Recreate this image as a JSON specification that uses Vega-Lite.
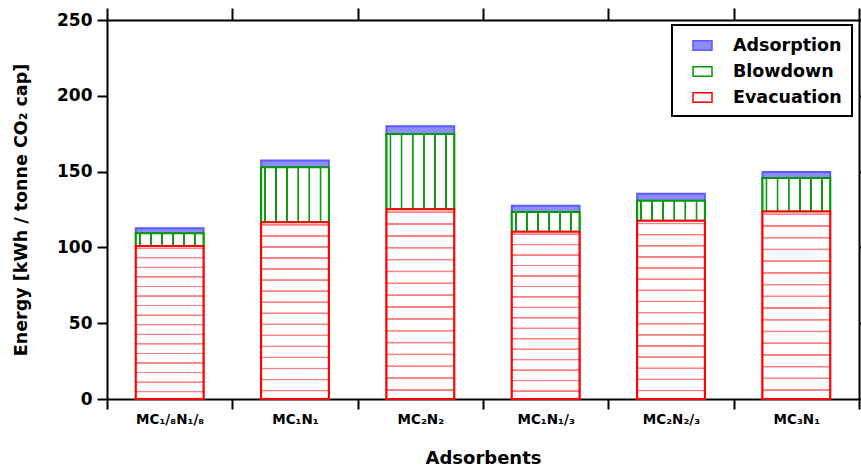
{
  "$schema": "https://vega.github.io/schema/vega-lite/v6.json",
  "width": 752,
  "height": 379,
  "autosize": {"type": "none"},
  "padding": {"left": 107, "top": 20, "right": 2, "bottom": 69},
  "background": "white",
  "config": {
    "font": "DejaVu Sans",
    "view": {"stroke": null},
    "axis": {"grid": false, "domainColor": "black", "domainWidth": 2, "tickColor": "black", "tickWidth": 2, "labelColor": "black", "titleColor": "black", "labelFontWeight": "bold", "titleFontWeight": "bold", "labelFont": "DejaVu Sans", "titleFont": "DejaVu Sans"},
    "legend": {
      "orient": "none", "legendX": 565, "legendY": 5, "title": null,
      "padding": 10, "strokeColor": "black", "strokeWidth": 2, "fillColor": "white",
      "symbolType": "M-1,-0.5H1V0.5H-1Z", "symbolSize": 361, "symbolStrokeWidth": 1.5, "symbolOffset": 10,
      "labelFont": "DejaVu Sans", "labelFontSize": 17.5, "labelFontWeight": "bold", "labelColor": "black",
      "labelOffset": 20, "rowPadding": 7
    }
  },
  "data": {
    "values": [
      {"adsorbent": "MC₁/₈N₁/₈", "phase": "Evacuation", "ord": 1, "value": 101.0},
      {"adsorbent": "MC₁/₈N₁/₈", "phase": "Blowdown", "ord": 2, "value": 8.3},
      {"adsorbent": "MC₁/₈N₁/₈", "phase": "Adsorption", "ord": 3, "value": 3.3},
      {"adsorbent": "MC₁N₁", "phase": "Evacuation", "ord": 1, "value": 116.6},
      {"adsorbent": "MC₁N₁", "phase": "Blowdown", "ord": 2, "value": 36.2},
      {"adsorbent": "MC₁N₁", "phase": "Adsorption", "ord": 3, "value": 4.6},
      {"adsorbent": "MC₂N₂", "phase": "Evacuation", "ord": 1, "value": 125.1},
      {"adsorbent": "MC₂N₂", "phase": "Blowdown", "ord": 2, "value": 49.7},
      {"adsorbent": "MC₂N₂", "phase": "Adsorption", "ord": 3, "value": 5.1},
      {"adsorbent": "MC₁N₁/₃", "phase": "Evacuation", "ord": 1, "value": 110.4},
      {"adsorbent": "MC₁N₁/₃", "phase": "Blowdown", "ord": 2, "value": 13.0},
      {"adsorbent": "MC₁N₁/₃", "phase": "Adsorption", "ord": 3, "value": 4.1},
      {"adsorbent": "MC₂N₂/₃", "phase": "Evacuation", "ord": 1, "value": 117.5},
      {"adsorbent": "MC₂N₂/₃", "phase": "Blowdown", "ord": 2, "value": 13.2},
      {"adsorbent": "MC₂N₂/₃", "phase": "Adsorption", "ord": 3, "value": 4.7},
      {"adsorbent": "MC₃N₁", "phase": "Evacuation", "ord": 1, "value": 123.7},
      {"adsorbent": "MC₃N₁", "phase": "Blowdown", "ord": 2, "value": 22.1},
      {"adsorbent": "MC₃N₁", "phase": "Adsorption", "ord": 3, "value": 3.9}
    ]
  },
  "transform": [
    {"stack": "value", "groupby": ["adsorbent"], "sort": [{"field": "ord", "order": "ascending"}], "as": ["v0", "v1"]}
  ],
  "layer": [
    {
      "mark": {"type": "bar", "width": {"band": 0.54}, "strokeWidth": 2},
      "encoding": {
        "x": {
          "field": "adsorbent", "type": "nominal", "sort": null,
          "scale": {"paddingInner": 0, "paddingOuter": 0},
          "axis": {"orient": "bottom", "title": "Adsorbents", "tickBand": "extent", "tickSize": 10, "labelAngle": 0, "labelFontSize": 13.5, "labelPadding": 3, "titleFontSize": 18, "titleY": 64, "titleBaseline": "alphabetic"}
        },
        "y": {
          "field": "v1", "type": "quantitative",
          "scale": {"domain": [0, 250], "nice": false},
          "axis": {"orient": "left", "title": "Energy [kWh / tonne CO₂ cap]", "values": [0, 50, 100, 150, 200, 250], "tickSize": 10, "labelFontSize": 17, "labelPadding": 5, "titleFontSize": 17.5, "titleX": -86, "titleY": 189.5, "titleAngle": -90, "titleAlign": "center", "titleBaseline": "middle"}
        },
        "y2": {"field": "v0"},
        "fill": {
          "field": "phase", "type": "nominal",
          "scale": {"domain": ["Adsorption", "Blowdown", "Evacuation"], "range": ["#8c8cfa", "white", "white"]}
        },
        "stroke": {
          "field": "phase", "type": "nominal",
          "scale": {"domain": ["Adsorption", "Blowdown", "Evacuation"], "range": ["#5a5aff", "#009a00", "#ff0000"]}
        }
      }
    },
    {
      "transform": [{"filter": "datum.phase === 'Blowdown'"}],
      "mark": {"type": "bar", "width": {"band": 0.54}, "strokeWidth": 2, "stroke": "#009a00",
        "fill": {"gradient": "linear", "x1": 0, "y1": 0, "x2": 1, "y2": 0, "stops": [
          {"offset": 0, "color": "#ffffff"},
          {"offset": 0.043, "color": "#ffffff"}, {"offset": 0.047, "color": "#119a11"}, {"offset": 0.071, "color": "#119a11"}, {"offset": 0.075, "color": "#ffffff"},
          {"offset": 0.206, "color": "#ffffff"}, {"offset": 0.210, "color": "#119a11"}, {"offset": 0.234, "color": "#119a11"}, {"offset": 0.238, "color": "#ffffff"},
          {"offset": 0.370, "color": "#ffffff"}, {"offset": 0.374, "color": "#119a11"}, {"offset": 0.398, "color": "#119a11"}, {"offset": 0.402, "color": "#ffffff"},
          {"offset": 0.534, "color": "#ffffff"}, {"offset": 0.538, "color": "#119a11"}, {"offset": 0.562, "color": "#119a11"}, {"offset": 0.566, "color": "#ffffff"},
          {"offset": 0.697, "color": "#ffffff"}, {"offset": 0.701, "color": "#119a11"}, {"offset": 0.725, "color": "#119a11"}, {"offset": 0.729, "color": "#ffffff"},
          {"offset": 0.861, "color": "#ffffff"}, {"offset": 0.865, "color": "#119a11"}, {"offset": 0.889, "color": "#119a11"}, {"offset": 0.893, "color": "#ffffff"},
          {"offset": 1, "color": "#ffffff"}
        ]}},
      "encoding": {
        "x": {"field": "adsorbent", "type": "nominal", "sort": null, "axis": null},
        "y": {"field": "v1", "type": "quantitative", "axis": null},
        "y2": {"field": "v0"}
      }
    },
    {
      "transform": [{"filter": "datum.phase === 'Evacuation'"}],
      "mark": {"type": "bar", "width": {"band": 0.54}, "strokeWidth": 2, "stroke": "#ff0000",
        "fill": {"gradient": "linear", "x1": 0, "y1": 0, "x2": 0, "y2": 1, "stops": [
          {"offset": 0, "color": "#ffffff"},
          {"offset": 0.009, "color": "#ffffff"}, {"offset": 0.012, "color": "#ff8080"}, {"offset": 0.018, "color": "#ff8080"}, {"offset": 0.021, "color": "#ffffff"},
          {"offset": 0.0715, "color": "#ffffff"}, {"offset": 0.0745, "color": "#ff8080"}, {"offset": 0.0805, "color": "#ff8080"}, {"offset": 0.0835, "color": "#ffffff"},
          {"offset": 0.134, "color": "#ffffff"}, {"offset": 0.137, "color": "#ff8080"}, {"offset": 0.143, "color": "#ff8080"}, {"offset": 0.146, "color": "#ffffff"},
          {"offset": 0.1965, "color": "#ffffff"}, {"offset": 0.1995, "color": "#ff8080"}, {"offset": 0.2055, "color": "#ff8080"}, {"offset": 0.2085, "color": "#ffffff"},
          {"offset": 0.259, "color": "#ffffff"}, {"offset": 0.262, "color": "#ff8080"}, {"offset": 0.268, "color": "#ff8080"}, {"offset": 0.271, "color": "#ffffff"},
          {"offset": 0.3215, "color": "#ffffff"}, {"offset": 0.3245, "color": "#ff8080"}, {"offset": 0.3305, "color": "#ff8080"}, {"offset": 0.3335, "color": "#ffffff"},
          {"offset": 0.384, "color": "#ffffff"}, {"offset": 0.387, "color": "#ff8080"}, {"offset": 0.393, "color": "#ff8080"}, {"offset": 0.396, "color": "#ffffff"},
          {"offset": 0.4465, "color": "#ffffff"}, {"offset": 0.4495, "color": "#ff8080"}, {"offset": 0.4555, "color": "#ff8080"}, {"offset": 0.4585, "color": "#ffffff"},
          {"offset": 0.509, "color": "#ffffff"}, {"offset": 0.512, "color": "#ff8080"}, {"offset": 0.518, "color": "#ff8080"}, {"offset": 0.521, "color": "#ffffff"},
          {"offset": 0.5715, "color": "#ffffff"}, {"offset": 0.5745, "color": "#ff8080"}, {"offset": 0.5805, "color": "#ff8080"}, {"offset": 0.5835, "color": "#ffffff"},
          {"offset": 0.634, "color": "#ffffff"}, {"offset": 0.637, "color": "#ff8080"}, {"offset": 0.643, "color": "#ff8080"}, {"offset": 0.646, "color": "#ffffff"},
          {"offset": 0.6965, "color": "#ffffff"}, {"offset": 0.6995, "color": "#ff8080"}, {"offset": 0.7055, "color": "#ff8080"}, {"offset": 0.7085, "color": "#ffffff"},
          {"offset": 0.759, "color": "#ffffff"}, {"offset": 0.762, "color": "#ff8080"}, {"offset": 0.768, "color": "#ff8080"}, {"offset": 0.771, "color": "#ffffff"},
          {"offset": 0.8215, "color": "#ffffff"}, {"offset": 0.8245, "color": "#ff8080"}, {"offset": 0.8305, "color": "#ff8080"}, {"offset": 0.8335, "color": "#ffffff"},
          {"offset": 0.884, "color": "#ffffff"}, {"offset": 0.887, "color": "#ff8080"}, {"offset": 0.893, "color": "#ff8080"}, {"offset": 0.896, "color": "#ffffff"},
          {"offset": 0.9465, "color": "#ffffff"}, {"offset": 0.9495, "color": "#ff8080"}, {"offset": 0.9555, "color": "#ff8080"}, {"offset": 0.9585, "color": "#ffffff"},
          {"offset": 1, "color": "#ffffff"}
        ]}},
      "encoding": {
        "x": {"field": "adsorbent", "type": "nominal", "sort": null, "axis": null},
        "y": {"field": "v1", "type": "quantitative", "axis": null},
        "y2": {"field": "v0"}
      }
    },
    {
      "mark": {"type": "point", "opacity": 0},
      "encoding": {
        "x": {
          "field": "adsorbent", "type": "nominal", "sort": null,
          "axis": {"orient": "top", "title": null, "labels": false, "tickBand": "extent", "tickSize": 12}
        },
        "y": {
          "field": "v1", "type": "quantitative",
          "axis": {"orient": "right", "title": null, "labels": false, "values": [0, 50, 100, 150, 200, 250], "tickSize": 10}
        }
      }
    }
  ],
  "resolve": {"axis": {"x": "independent", "y": "independent"}}
}
